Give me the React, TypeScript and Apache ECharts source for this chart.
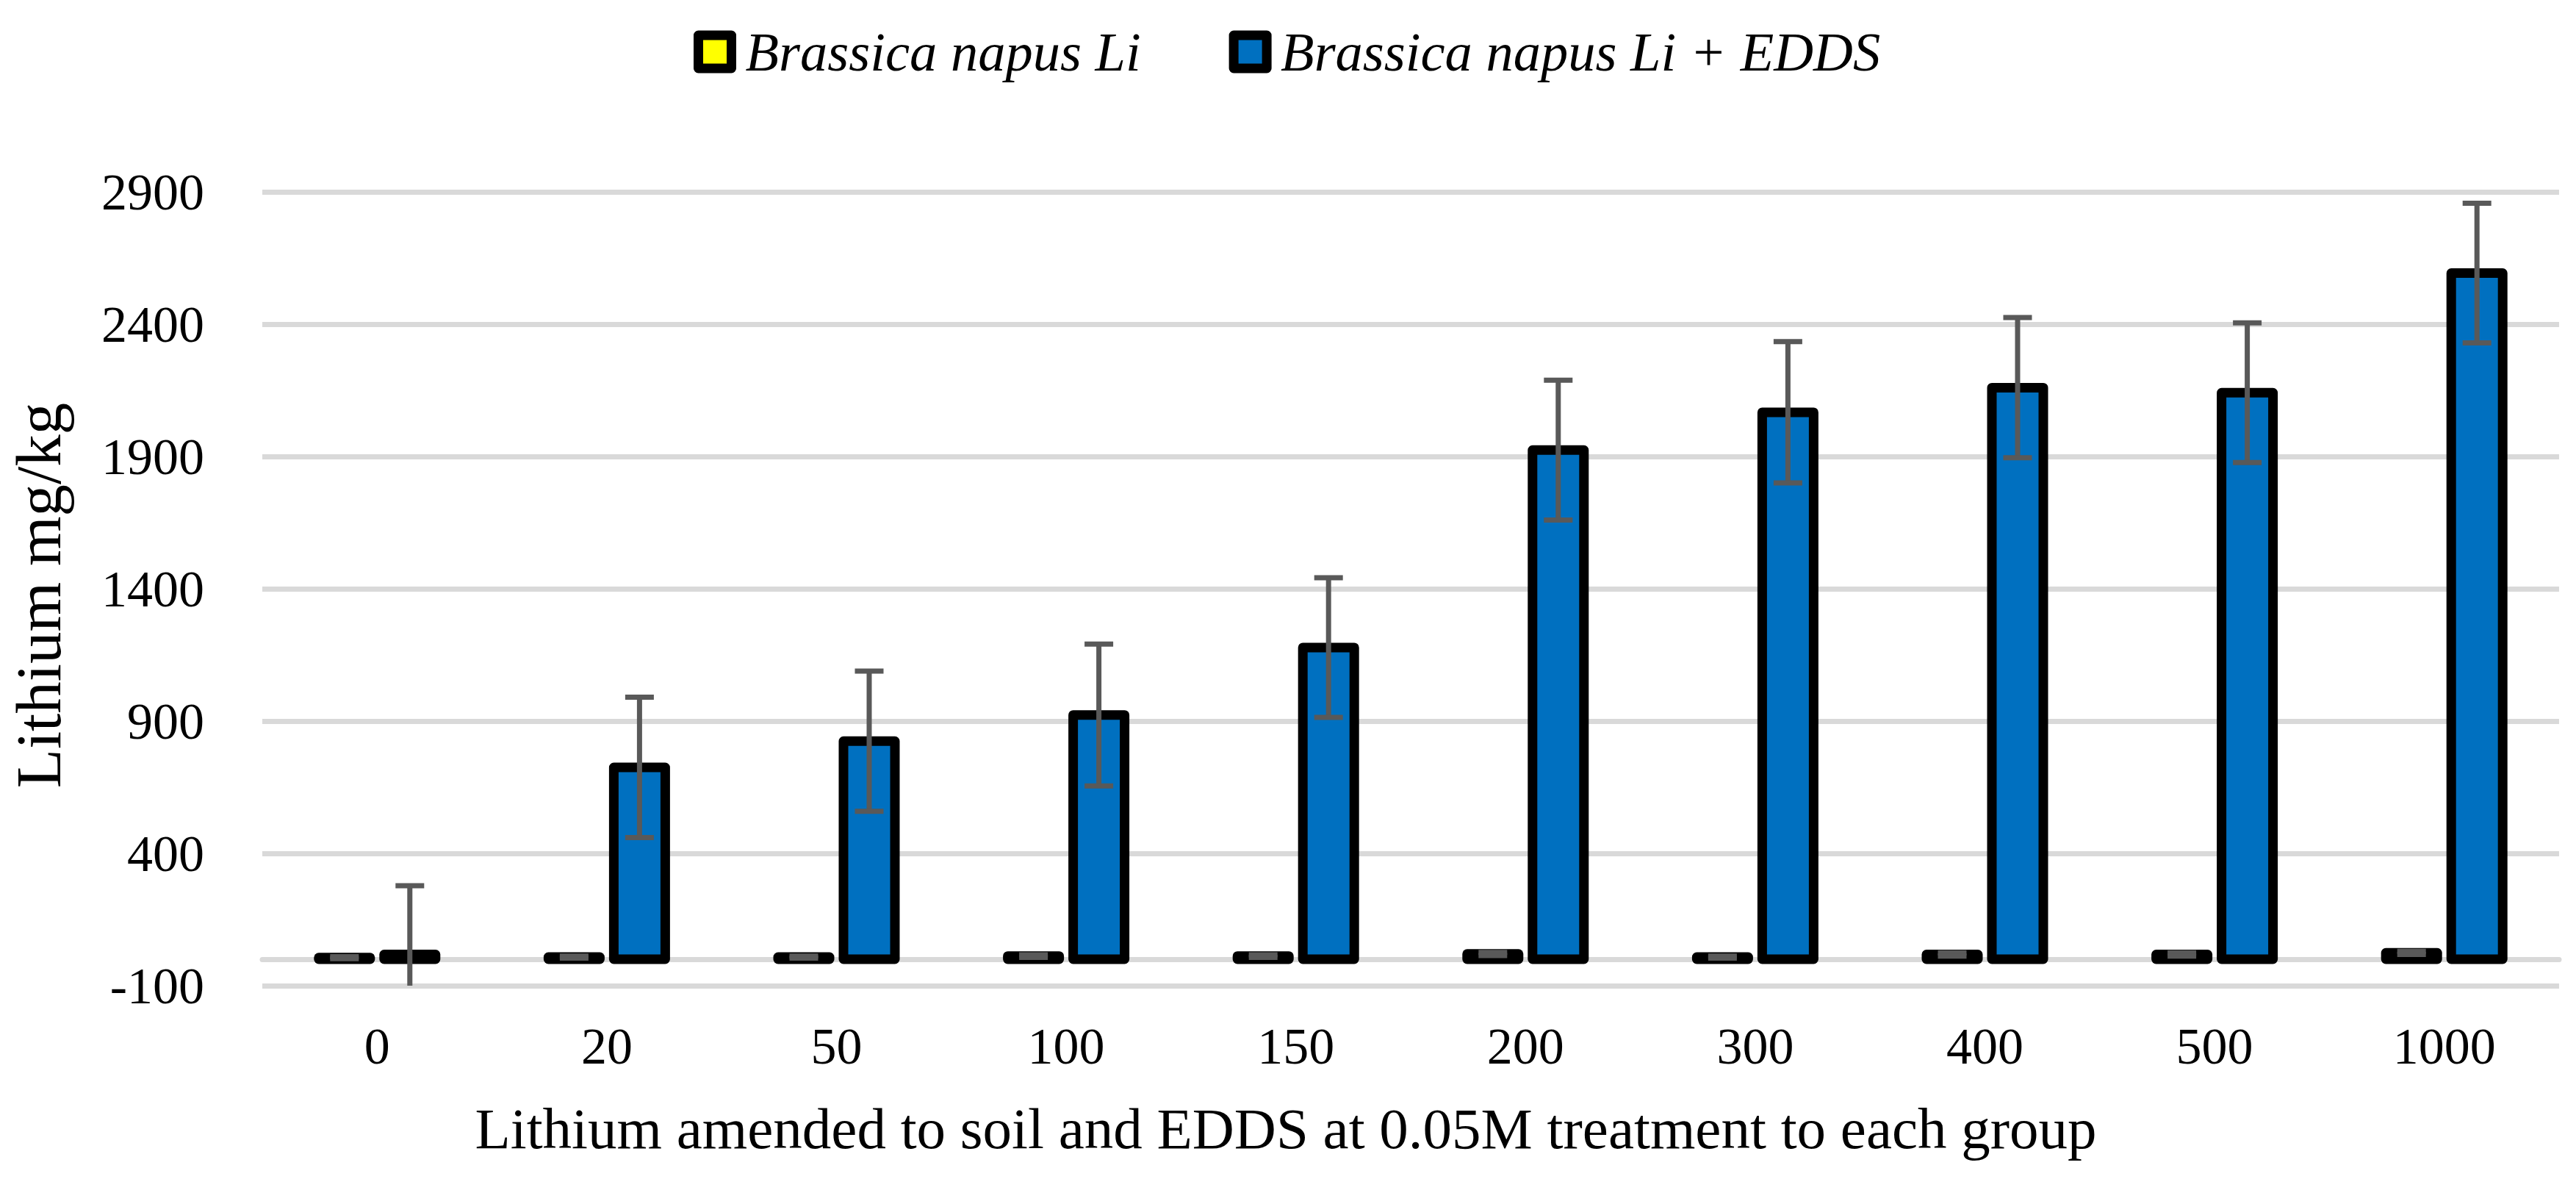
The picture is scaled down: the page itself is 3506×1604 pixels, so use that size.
import React, { useEffect, useRef } from 'react';
import * as echarts from 'echarts';

const categories = ['0', '20', '50', '100', '150', '200', '300', '400', '500', '1000'];
const seriesNames = ['Brassica napus Li', 'Brassica napus Li + EDDS'];
const liValues = [6, 8, 8, 12, 12, 20, 8, 18, 18, 24];
const liErrors = [4, 4, 4, 5, 5, 6, 4, 6, 6, 6];
const eddsValues = [18, 725, 824, 923, 1178, 1924, 2067, 2160, 2141, 2593];
const eddsErrors = [260, 265, 265, 268, 264, 264, 267, 265, 264, 264];
const yMin = -100;
const yMax = 2900;
const yInterval = 500;
const xTitle = 'Lithium amended to soil and EDDS at 0.05M treatment to each group';
const yTitle = 'Lithium mg/kg';

const FONT = '"Liberation Serif", "Times New Roman", serif';
const ERR_COLOR = '#595959';
const BAR_W = 70;
const BAR_OFFSET = 44.5;

function outlineSeries(values: number[], offset: number) {
  return {
    type: 'custom',
    z: 4,
    silent: true,
    data: values.map((v, i) => [i, v]),
    encode: { x: 0, y: 1 },
    renderItem: (params: any, api: any) => {
      const idx = api.value(0);
      const v = api.value(1);
      const top = api.coord([idx, v]);
      const base = api.coord([idx, 0]);
      const cx = top[0] + offset;
      return {
        type: 'rect',
        shape: { x: cx - BAR_W / 2, y: Math.min(top[1], base[1]), width: BAR_W, height: Math.abs(base[1] - top[1]) },
        style: { fill: 'none', stroke: '#000000', lineWidth: 13, lineJoin: 'round' },
      };
    },
  };
}

function errorSeries(values: number[], errors: number[], offset: number) {
  return {
    type: 'custom',
    z: 5,
    silent: true,
    data: values.map((v, i) => [i, v, errors[i]]),
    encode: { x: 0, y: 1 },
    renderItem: (params: any, api: any) => {
      const idx = api.value(0);
      const v = api.value(1);
      const e = api.value(2);
      const hi = api.coord([idx, v + e]);
      const lowVal = v - e;
      const clipped = lowVal < yMin;
      const lo = api.coord([idx, Math.max(lowVal, yMin)]);
      const x = hi[0] + offset;
      const half = 19.5;
      const style = { stroke: ERR_COLOR, lineWidth: 7, lineCap: 'butt' };
      const children: any[] = [
        { type: 'line', shape: { x1: x, y1: hi[1], x2: x, y2: lo[1] }, style },
        { type: 'line', shape: { x1: x - half, y1: hi[1], x2: x + half, y2: hi[1] }, style },
      ];
      if (!clipped) {
        children.push({ type: 'line', shape: { x1: x - half, y1: lo[1], x2: x + half, y2: lo[1] }, style });
      }
      return { type: 'group', children };
    },
  };
}

export default function App() {
  const ref = useRef<HTMLDivElement>(null);
  useEffect(() => {
    document.body.style.margin = '0';
    if (!ref.current) return;
    const chart = echarts.init(ref.current, null, { renderer: 'svg' });
    const option: any = {
      animation: false,
      backgroundColor: '#ffffff',
      legend: {
        top: 33,
        left: 944,
        itemWidth: 45,
        itemHeight: 45,
        itemGap: 120,
        icon: 'rect',
        padding: 0,
        itemStyle: { borderColor: '#000000', borderWidth: 13, borderJoin: 'round' },
        textStyle: {
          fontFamily: FONT,
          fontStyle: 'italic',
          fontSize: 74.5,
          color: '#000000',
          padding: [0, 0, 0, 14],
        },
        data: seriesNames,
      },
      grid: { left: 357, right: 23, top: 261, bottom: 263, containLabel: false },
      xAxis: {
        type: 'category',
        data: categories,
        axisLine: { show: true, onZero: true, lineStyle: { color: '#d9d9d9', width: 7 } },
        axisTick: { show: false },
        axisLabel: { fontFamily: FONT, fontSize: 70, color: '#000000', margin: 47 },
        splitLine: { show: false },
      },
      yAxis: {
        type: 'value',
        min: yMin,
        max: yMax,
        interval: yInterval,
        axisLine: { show: false },
        axisTick: { show: false },
        axisLabel: {
          fontFamily: FONT,
          fontSize: 70,
          color: '#000000',
          margin: 79,
          formatter: (v: number) => String(v),
        },
        splitLine: { show: true, lineStyle: { color: '#d9d9d9', width: 7 } },
      },
      graphic: [
        {
          type: 'text',
          x: 1750,
          y: 1535,
          style: {
            text: xTitle,
            fontFamily: FONT,
            fontSize: 79,
            fill: '#000000',
            align: 'center',
            verticalAlign: 'middle',
            textAlign: 'center',
            textVerticalAlign: 'middle',
          },
        },
        {
          type: 'text',
          x: 52,
          y: 810,
          rotation: Math.PI / 2,
          style: {
            text: yTitle,
            fontFamily: FONT,
            fontSize: 87,
            fill: '#000000',
            align: 'center',
            verticalAlign: 'middle',
            textAlign: 'center',
            textVerticalAlign: 'middle',
          },
        },
      ],
      series: [
        {
          type: 'bar',
          name: seriesNames[0],
          data: liValues,
          barWidth: BAR_W,
          barGap: '27.14%',
          itemStyle: { color: '#ffff00' },
        },
        {
          type: 'bar',
          name: seriesNames[1],
          data: eddsValues,
          barWidth: BAR_W,
          barGap: '27.14%',
          itemStyle: { color: '#0070c0' },
        },
        outlineSeries(liValues, -BAR_OFFSET),
        outlineSeries(eddsValues, BAR_OFFSET),
        errorSeries(liValues, liErrors, -BAR_OFFSET),
        errorSeries(eddsValues, eddsErrors, BAR_OFFSET),
      ],
    };
    chart.setOption(option);
    return () => chart.dispose();
  }, []);
  return <div ref={ref} style={{ width: 3506, height: 1604 }} />;
}
